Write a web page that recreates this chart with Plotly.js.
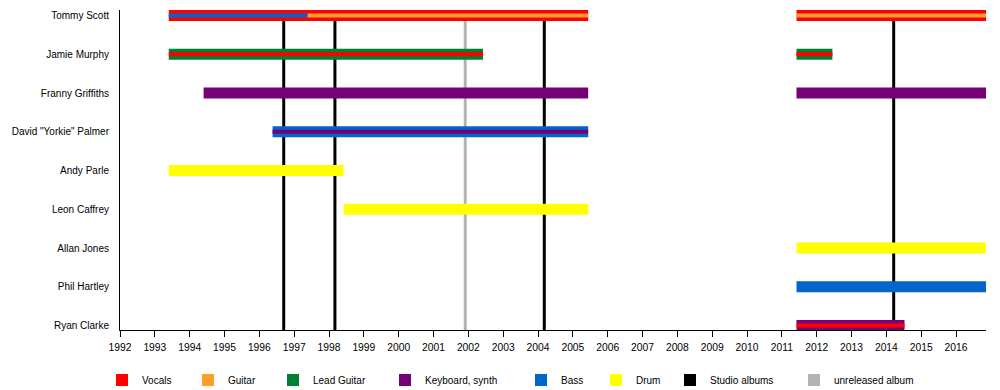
<!DOCTYPE html>
<html><head><meta charset="utf-8">
<script src="https://cdn.plot.ly/plotly-3.0.1.min.js"></script>
<style>html,body{margin:0;padding:0;background:#fff}#chart{width:1000px;height:390px}</style>
</head><body><div id="chart"></div>
<script>
// ---- data ----
const members = ['Tommy Scott','Jamie Murphy','Franny Griffiths','David "Yorkie" Palmer','Andy Parle','Leon Caffrey','Allan Jones','Phil Hartley','Ryan Clarke'];
const roles = ['Vocals','Guitar','Lead Guitar','Keyboard, synth','Bass','Drum'];
const timelineStart = 1992;
const timelineEnd = 2016.86;
const tickYears = [1992,1993,1994,1995,1996,1997,1998,1999,2000,2001,2002,2003,2004,2005,2006,2007,2008,2009,2010,2011,2012,2013,2014,2015,2016];

// main (outer) bars
const outerMember = ['Tommy Scott','Tommy Scott','Jamie Murphy','Jamie Murphy','Franny Griffiths','Franny Griffiths','David "Yorkie" Palmer','Andy Parle','Leon Caffrey','Allan Jones','Phil Hartley','Ryan Clarke'];
const outerRole   = ['Vocals','Vocals','Lead Guitar','Lead Guitar','Keyboard, synth','Keyboard, synth','Bass','Drum','Drum','Drum','Bass','Keyboard, synth'];
const outerStart  = [1993.4, 2011.42, 1993.4, 2011.42, 1994.4, 2011.42, 1996.38, 1993.4, 1998.42, 2011.42, 2011.42, 2011.42];
const outerEnd    = [2005.44, timelineEnd, 2002.42, 2012.45, 2005.44, timelineEnd, 2005.44, 1998.42, 2005.44, timelineEnd, timelineEnd, 2014.52];

// secondary (inner stripe) bars
const innerMember = ['Tommy Scott','Tommy Scott','Tommy Scott','Jamie Murphy','Jamie Murphy','David "Yorkie" Palmer','Ryan Clarke'];
const innerRole   = ['Bass','Guitar','Guitar','Vocals','Vocals','Keyboard, synth','Vocals'];
const innerStart  = [1993.4, 1997.38, 2011.42, 1993.4, 2011.42, 1996.38, 2011.42];
const innerEnd    = [1997.38, 2005.44, timelineEnd, 2002.42, 2012.45, 2005.44, 2014.52];

// albums
const studioAlbumYears = [1996.70, 1998.17, 2004.18, 2014.21];
const unreleasedAlbumYears = [2001.91];

// ---- styles ----
const roleColors = {'Vocals':'#ff0000','Guitar':'#ff9e2a','Lead Guitar':'#008033','Keyboard, synth':'#770077','Bass':'#0066cc','Drum':'#ffff00'};
const studioColor = '#000000', unreleasedColor = '#b3b3b3';
const legendOrder = ['Vocals','Guitar','Lead Guitar','Keyboard, synth','Bass','Drum','Studio albums','unreleased album'];
const legendSquarePx = [124,210,295,407,543,618,692,816];
const plotLeft = 120, plotRight = 14, W = 1000, H = 390, plotTop = 10, plotBottom = 60;
const plotW = W - plotLeft - plotRight, plotH = H - plotTop - plotBottom;
const outerWidth = 0.284, innerWidth = 0.10;
const albumLineWidth = 3 / (plotW / (timelineEnd - timelineStart));

function legendId(name){ const i = legendOrder.indexOf(name); return i === 0 ? 'legend' : 'legend' + (i + 1); }

const traces = [];
// album lines (drawn underneath, on the base subplot)
traces.push({type:'bar', orientation:'v', name:'Studio albums', x: studioAlbumYears, y: studioAlbumYears.map(()=>1), base: 0,
  width: albumLineWidth, marker:{color: studioColor, line:{width:0}}, xaxis:'x', yaxis:'y', legend: legendId('Studio albums'), showlegend:true, hoverinfo:'skip'});
traces.push({type:'bar', orientation:'v', name:'unreleased album', x: unreleasedAlbumYears, y: unreleasedAlbumYears.map(()=>1), base: 0,
  width: albumLineWidth, marker:{color: unreleasedColor, line:{width:0}}, xaxis:'x', yaxis:'y', legend: legendId('unreleased album'), showlegend:true, hoverinfo:'skip'});

const shown = {};
function addLayer(mem, rl, st, en, w){
  roles.forEach(role => {
    const idx = rl.map((r,i)=> r === role ? i : -1).filter(i => i >= 0);
    if (!idx.length) return;
    traces.push({type:'bar', orientation:'h', name: role,
      y: idx.map(i => mem[i]), x: idx.map(i => en[i] - st[i]), base: idx.map(i => st[i]),
      width: w, marker:{color: roleColors[role], line:{width:0}}, xaxis:'x', yaxis:'y2',
      legend: legendId(role), showlegend: !shown[role], hoverinfo:'skip'});
    shown[role] = true;
  });
}
addLayer(outerMember, outerRole, outerStart, outerEnd, outerWidth);
addLayer(innerMember, innerRole, innerStart, innerEnd, innerWidth);

const layout = {
  width: W, height: H,
  margin: {l: plotLeft, r: plotRight, t: plotTop, b: plotBottom, pad: 0, autoexpand: false},
  paper_bgcolor: '#fff', plot_bgcolor: '#fff',
  font: {family: 'Liberation Sans, Arial, sans-serif', size: 10, color: '#000'},
  barmode: 'overlay', showlegend: true, hovermode: false,
  xaxis: {range: [timelineStart, timelineEnd], tickmode: 'array', tickvals: tickYears, ticktext: tickYears.map(String),
    ticks: 'outside', ticklen: 6, tickwidth: 1, tickcolor: '#000', showline: true, linecolor: '#000', linewidth: 1,
    showgrid: false, zeroline: false, fixedrange: true, tickfont: {size: 10.3}, ticklabelstandoff: 2, automargin: false},
  yaxis: {range: [0, 1], visible: false, fixedrange: true},
  yaxis2: {overlaying: 'y', side: 'left', type: 'category', categoryorder: 'array', categoryarray: members,
    range: [members.length - 1 + 0.116, -0.142], showline: true, linecolor: '#000', linewidth: 1, ticks: '',
    showgrid: false, zeroline: false, fixedrange: true, ticklabelstandoff: 8, tickfont: {size: 10}, automargin: false}
};
legendOrder.forEach((name, i) => {
  const id = i === 0 ? 'legend' : 'legend' + (i + 1);
  layout[id] = {x: (legendSquarePx[i] - 22 - plotLeft) / plotW, xanchor: 'left', y: (plotH - (380 - plotTop)) / plotH, yanchor: 'middle',
    orientation: 'h', bgcolor: 'rgba(0,0,0,0)', borderwidth: 0, font: {size: 10, color: '#000'}};
});

Plotly.newPlot('chart', traces, layout, {displayModeBar: false, staticPlot: true});
</script></body></html>
